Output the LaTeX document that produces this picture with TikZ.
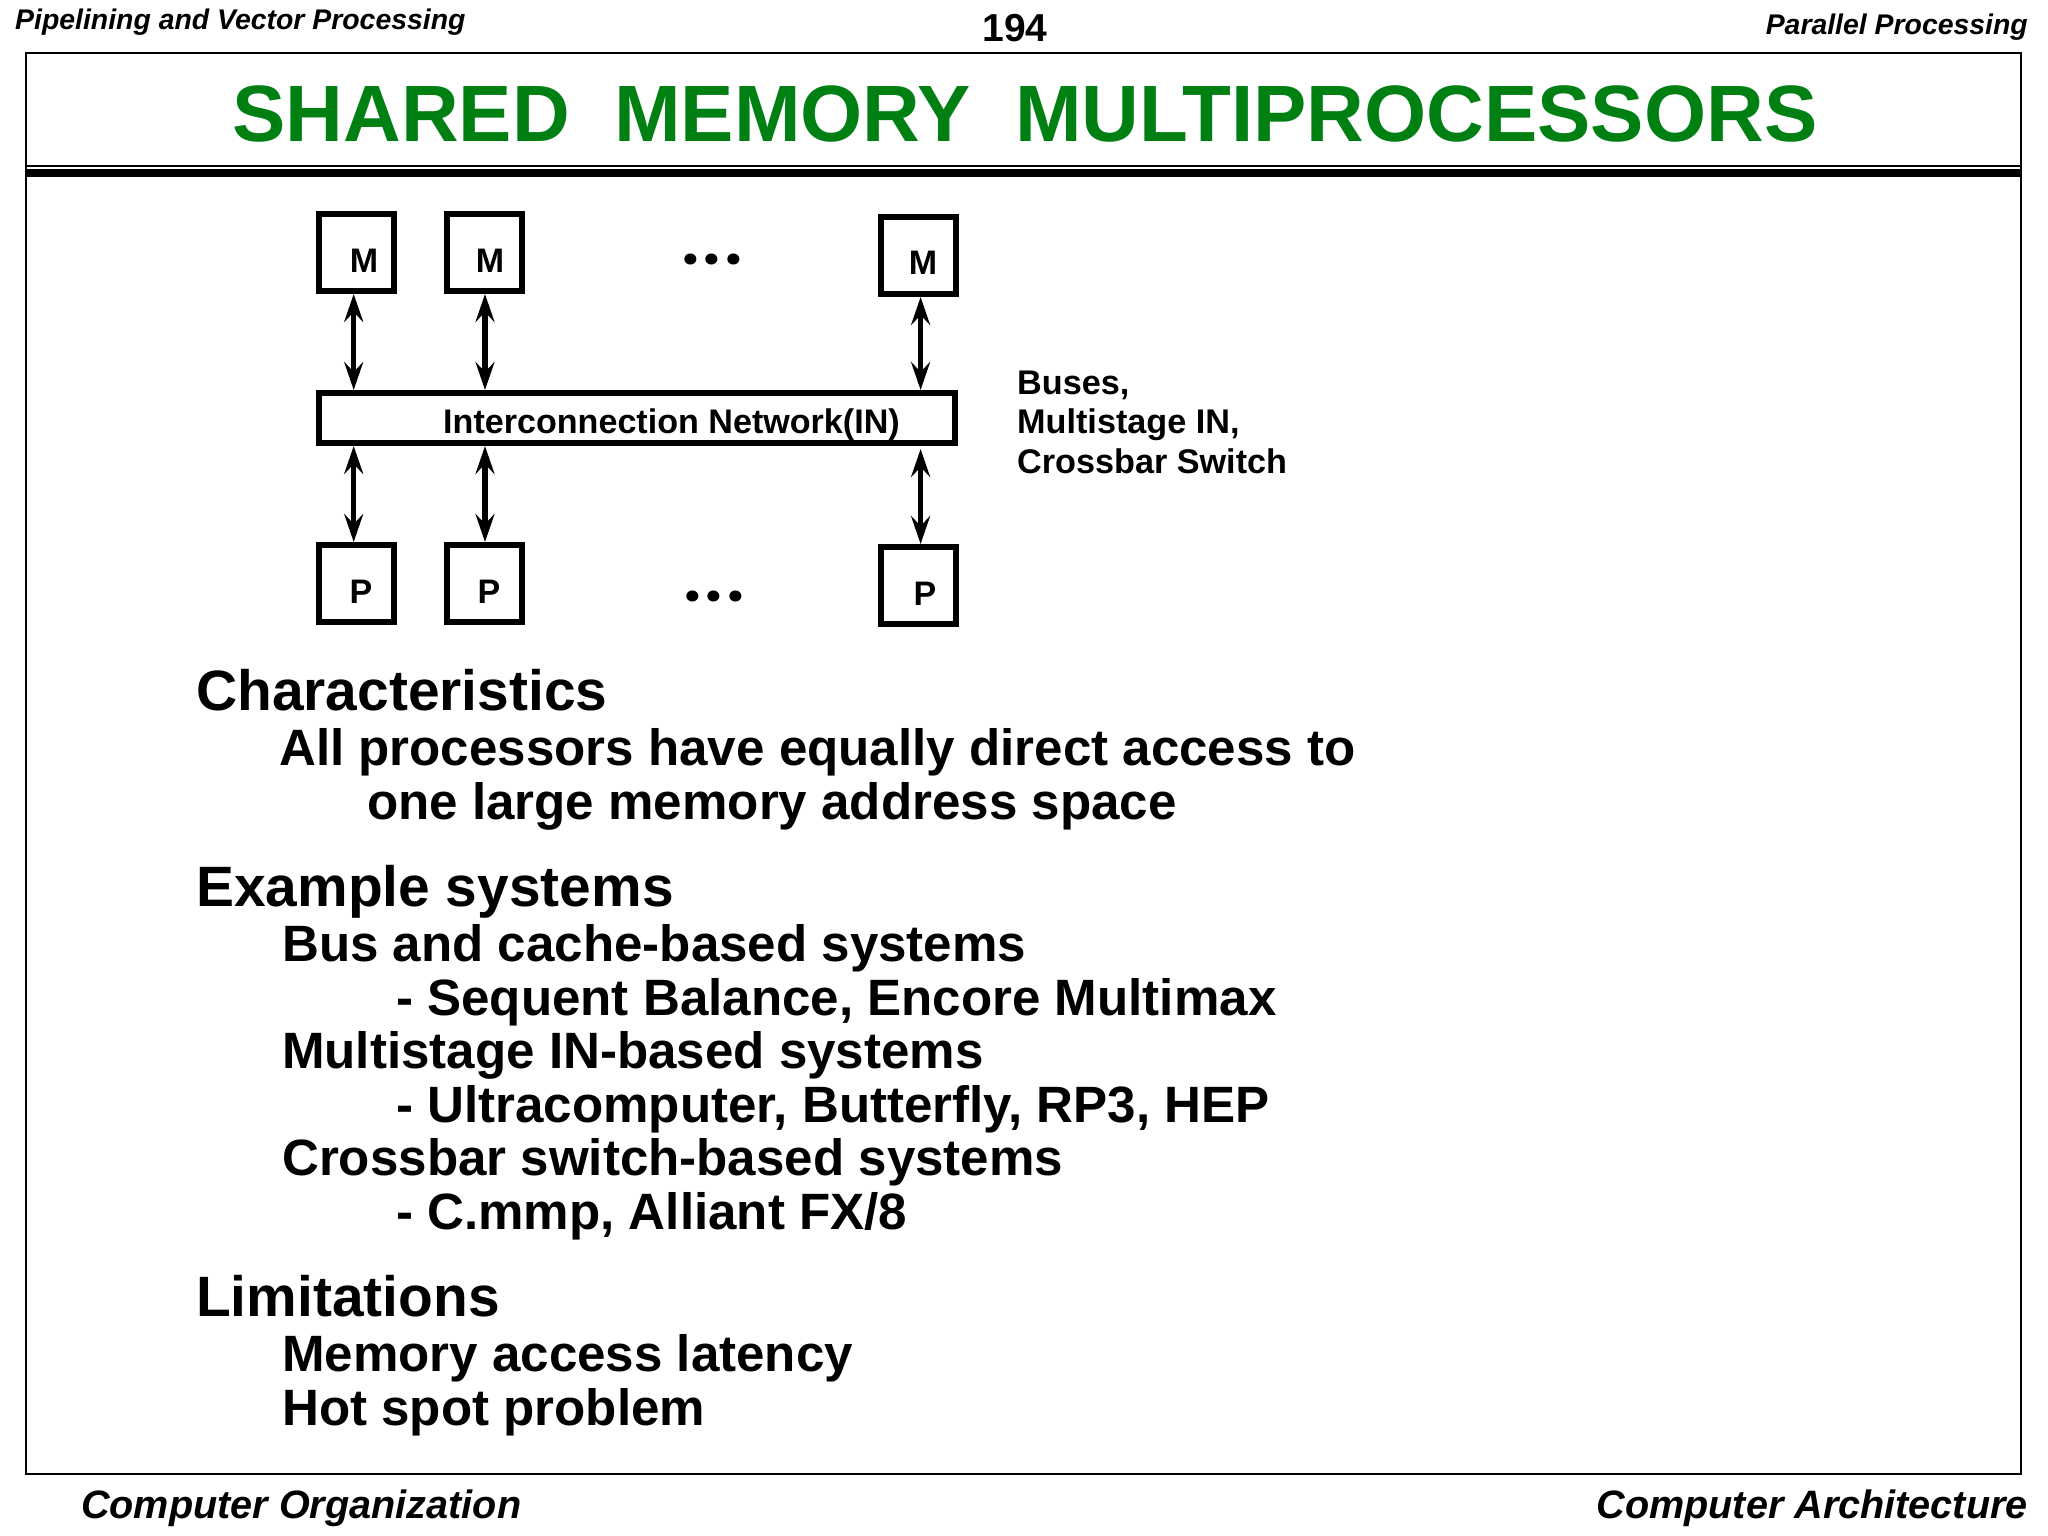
\documentclass[tikz,border=0pt]{standalone}
\usepackage{fontspec}
\usetikzlibrary{arrows.meta}
\setmainfont{Liberation Sans}
\newfontfamily\dotf[LetterSpace=8]{Poppins}
\definecolor{TitleGreen}{HTML}{008012}
\newcommand{\fsz}[1]{\fontsize{#1}{#1}\selectfont}
\tikzset{
  lbl/.style={inner sep=0pt,anchor=base west},
  lblr/.style={inner sep=0pt,anchor=base east},
  lblc/.style={inner sep=0pt,anchor=base},
  head/.style={lbl,font=\fsz{56.9}\bfseries},
  body/.style={lbl,font=\fsz{51.1}\bfseries},
  side/.style={lbl,font=\fsz{34.2}\bfseries},
  letter/.style={lblc,font=\fsz{34}\bfseries},
  dots/.style={lblc,font=\dotf\fsz{59}\bfseries},
  hdr/.style={font=\fsz{28.4}\bfseries\itshape},
  ftr/.style={font=\fsz{39.6}\bfseries\itshape},
  box/.style={draw,line width=6pt,minimum width=75pt,minimum height=77pt,inner sep=0pt},
  bus/.style={{Stealth[length=28pt,width=19pt,inset=10pt]}-{Stealth[length=28pt,width=19pt,inset=10pt]},line width=5.5pt},
  busthin/.style={bus,line width=4.5pt},
}
\begin{document}
\begin{tikzpicture}[x=1pt,y=-1pt]
  \useasboundingbox (0,0) rectangle (2048,1536);

  % page furniture
  \node[lbl,hdr] (hdl) at (15,30) {Pipelining and Vector Processing};
  \node[lblr,hdr] (hdrr) at (2028,35) {Parallel Processing};
  \node[lblc,font=\fsz{39}\bfseries] (pg) at (1015,42) {194};
  \node[lbl,ftr] (ftl) at (81,1518) {Computer Organization};
  \node[lblr,ftr] (ftrr) at (2028,1518) {Computer Architecture};

  % frame and rule
  \draw[line width=2pt] (26,53) rectangle (2020.5,1474);
  \draw[line width=2pt] (26,165.7) -- (2020.5,165.7);
  \draw[line width=8pt] (26,173) -- (2020.5,173);

  \node[lblc,font=\fsz{79.9}\bfseries,text=TitleGreen] (title) at (1025,142) {SHARED\ \ MEMORY\ \ MULTIPROCESSORS};

  % memories
  \node[box] (m1) at (356.5,252.5) {};
  \node[box] (m2) at (484.5,252.5) {};
  \node[box] (m3) at (918,255.5) {};
  % network
  \node[box,minimum width=636pt,minimum height=50pt] (in) at (637,418) {};
  % processors
  \node[box] (p1) at (356.5,583.5) {};
  \node[box] (p2) at (484.5,583.5) {};
  \node[box] (p3) at (918,585.5) {};

  \node[letter] (lm1) at (364,272) {M};
  \node[letter] (lm2) at (490,272) {M};
  \node[letter] (lm3) at (923,274.5) {M};
  \node[letter] (lp1) at (361,603) {P};
  \node[letter] (lp2) at (489,603) {P};
  \node[letter] (lp3) at (925,605) {P};

  \node[dots] (d1) at (712,264) {...};
  \node[dots] (d2) at (714,601) {...};

  % connectors
  \draw[bus] ([xshift=-2.8pt]m1.south) -- ([xshift=-2.8pt]m1.south |- in.north);
  \draw[bus] ([xshift=.5pt]m2.south) -- ([xshift=.5pt]m2.south |- in.north);
  \draw[busthin] ([xshift=2.6pt]m3.south) -- ([xshift=2.6pt]m3.south |- in.north);
  \draw[bus] ([xshift=-2.8pt]in.south -| m1.south) -- ([xshift=-2.8pt]p1.north);
  \draw[bus] ([xshift=.5pt]in.south -| m2.south) -- ([xshift=.5pt]p2.north);
  \draw[busthin] ([xshift=2.6pt,yshift=-3pt]in.south -| m3.south) -- ([xshift=2.6pt]p3.north);

  \node[lbl,font=\fsz{34.1}\bfseries] (lin) at (443,433) {Interconnection Network(IN)};
  \node[side] (s1) at (1017,394) {Buses,};
  \node[side] (s2) at (1017,433.5) {Multistage IN,};
  \node[side] (s3) at (1017,473) {Crossbar Switch};

  % text
  \node[head] (t1) at (196,710) {Characteristics};
  \node[body] (t2) at (279,765.5) {All processors have equally direct access to};
  \node[body] (t3) at (367,819) {one large memory address space};
  \node[head] (t4) at (196,906) {Example systems};
  \node[body] (t5) at (282,961.5) {Bus and cache-based systems};
  \node[body] (t6) at (396,1015) {- Sequent Balance, Encore Multimax};
  \node[body] (t7) at (282,1068.5) {Multistage IN-based systems};
  \node[body] (t8) at (396,1122) {- Ultracomputer, Butterfly, RP3, HEP};
  \node[body] (t9) at (282,1175.5) {Crossbar switch-based systems};
  \node[body] (t10) at (396,1229) {- C.mmp, Alliant FX/8};
  \node[head] (t11) at (196,1316) {Limitations};
  \node[body] (t12) at (282,1371.5) {Memory access latency};
  \node[body] (t13) at (282,1425) {Hot spot problem};
\end{tikzpicture}
\end{document}
